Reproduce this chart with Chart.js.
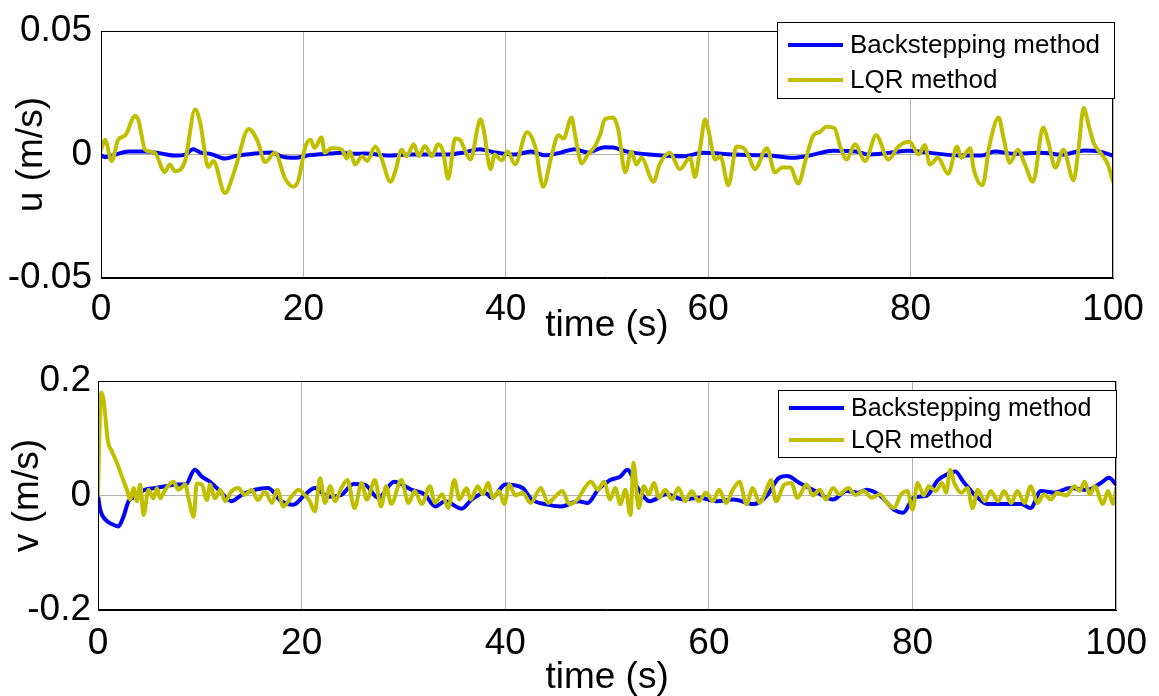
<!DOCTYPE html>
<html>
<head>
<meta charset="utf-8">
<script src="https://cdn.jsdelivr.net/npm/chart.js@4/dist/chart.umd.min.js"></script>
<style>
  html, body { margin: 0; padding: 0; background: #fff; }
  #wrap { position: relative; width: 1159px; height: 696px; }
  canvas { position: absolute; left: 0; }
  #uChart { top: 0; }
  #vChart { top: 348px; }
</style>
</head>
<body>
<div id="wrap">
  <canvas id="uChart" width="1159" height="348"></canvas>
  <canvas id="vChart" width="1159" height="348"></canvas>
</div>
<script>
// tick positions
const timeTicks = [0, 20, 40, 60, 80, 100];
const uTicks = [-0.05, 0, 0.05];
const vTicks = [-0.2, 0, 0.2];

const seriesNames = ["Backstepping method", "LQR method"];

// surge velocity u, backstepping
const uBackTime = [0, 0.4, 1.4, 2.7, 4.3, 6.0, 7.3, 8.3, 9.1, 9.8, 10.9, 12.25, 13.2, 15.2, 16.9, 17.8, 19.2, 20.5,
  22.5, 23.8, 24.9, 26.1, 28.4, 30.7, 34.0, 35.9, 37.4, 38.9, 40.9, 42.5, 43.8, 45.5, 46.8, 48.1, 49.8, 50.6,
  51.9, 54.2, 57.5, 59.5, 62.5, 65.8, 68.4, 70.4, 72.3, 74.6, 75.8, 77.8, 79.7, 82.0, 84.3, 87.0, 88.3, 90.3,
  92.9, 94.9, 97.2, 98.6, 100];
const uBack = [-0.0003, -0.001, 0, 0.0013, 0.0013, 0.0004, -0.0004, 0, 0.0022, 0.0009, 0.0002, -0.0016, -0.0007,
  0.0004, 0.0009, -0.0007, -0.0013, -0.0003, 0.0004, 0.0007, 0.0003, 0.0004, -0.0004, 0, 0, 0.0009, 0.0022,
  0.0009, 0, 0.0013, -0.0003, 0.0009, 0.0022, 0.0009, 0.003, 0.0029, 0.0013, 0, -0.0007, 0.0007, 0, -0.0003,
  -0.0013, 0, 0.0016, 0.0013, 0, 0.0007, 0.0016, 0.0007, -0.0003, -0.0004, 0.0013, 0.0003, 0.0007, 0, 0.0017,
  0.0013, -0.0004];

// surge velocity u, LQR
const uLqrTime = [0, 0.4, 1.05, 1.7, 2.4, 3.36, 3.7, 4.35, 5.3, 6.3, 6.8, 7.3, 8.3, 9.3, 9.8, 10.6, 11.1, 12.25,
  13.2, 14.6, 15.5, 16.2, 17.2, 18.2, 19.0, 19.5, 20.2, 20.7, 21.1, 21.8, 22.1, 22.8, 23.8, 24.3, 24.6, 25.1,
  25.8, 26.3, 27.1, 27.7, 28.6, 29.1, 29.7, 30.2, 30.9, 31.4, 32.0, 32.7, 33.3, 33.8, 34.3, 35.0, 35.5, 35.8,
  36.5, 37.5, 37.8, 38.5, 38.9, 39.6, 40.2, 40.9, 42.1, 42.9, 43.7, 44.5, 45.2, 45.7, 46.5, 46.8, 47.5, 48.1,
  48.8, 49.3, 49.8, 50.6, 51.1, 51.8, 52.4, 52.9, 53.4, 54.6, 55.2, 56.2, 57.2, 58.2, 58.7, 59.2, 59.7, 60.0,
  60.7, 61.2, 62.0, 62.8, 63.5, 64.0, 64.6, 65.8, 66.6, 67.3, 68.1, 68.9, 69.6, 70.4, 71.0, 71.7, 72.5, 73.0,
  73.7, 74.5, 75.5, 76.6, 77.8, 78.8, 79.9, 80.8, 81.4, 81.9, 82.7, 83.7, 84.6, 85.0, 85.9, 86.2, 87.1, 87.8,
  88.7, 89.2, 89.8, 90.6, 91.3, 92.1, 93.1, 93.6, 94.3, 95.1, 96.1, 96.6, 97.1, 97.6, 98.1, 98.9, 99.5, 100];
const uLqr = [0.002, 0.006, -0.0026, 0.006, 0.0078, 0.0156, 0.014, 0.002, 0.0008, -0.007, -0.004, -0.0067, -0.0027,
  0.0183, 0.013, -0.005, -0.0026, -0.0156, -0.0065, 0.0104, 0.0052, -0.003, 0.0007, -0.0098, -0.013, -0.0104,
  0.0033, 0.006, 0.0027, 0.007, 0.0007, 0.0027, 0.002, -0.0016, 0.0013, -0.004, -0.0007, -0.0026, 0.0033,
  -0.0013, -0.011, -0.0065, 0.002, -0.0007, 0.0042, -0.0007, 0.0035, -0.0007, 0.0042, 0.0013, -0.0098, 0.0065,
  0.0059, 0.0033, -0.002, 0.0143, 0.0104, -0.0059, 0, -0.0023, 0.0013, -0.004, 0.0091, 0.0033, -0.013, -0.0007,
  0.0078, 0.0065, 0.015, 0.0091, -0.0036, 0, 0.0033, 0.0078, 0.0143, 0.015, 0.0104, -0.0072, 0.0013, -0.004,
  -0.0013, -0.011, -0.004, 0.0007, -0.0059, -0.0013, -0.0091, 0.0026, 0.0143, 0.0104, -0.002, -0.0007, -0.0124,
  0.0033, 0.0026, -0.0007, -0.0059, 0.0026, -0.0072, -0.0052, -0.0052, -0.0117, -0.0026, 0.0078, 0.0091, 0.0113,
  0.0107, 0.0039, -0.002, 0.0042, -0.0026, 0.0078, -0.002, 0.0033, 0.0052, 0, 0.0039, -0.004, -0.0013, -0.0078,
  0.0033, -0.0013, 0.0026, -0.0052, -0.0124, 0.0039, 0.015, 0.0065, -0.0033, 0.002, -0.004, -0.011, 0.011,
  0.0052, -0.0052, 0.002, -0.0104, 0.0026, 0.0189, 0.0117, 0.0046, 0, -0.004, -0.011];

// sway velocity v, backstepping
const vBackTime = [0, 0.22, 0.72, 1.37, 2.0, 2.5, 3.0, 3.7, 4.6, 5.6, 6.6, 7.6, 8.6, 9.5, 10.2, 11.0, 12.0, 13.1,
  14.1, 15.4, 16.7, 18.0, 19.2, 20.3, 21.3, 22.6, 23.9, 25.1, 26.2, 27.5, 29.1, 30.8, 32.1, 33.1, 34.1, 35.7,
  36.7, 38.0, 38.7, 40.0, 41.7, 42.6, 43.9, 45.5, 47.2, 48.1, 49.1, 50.3, 51.3, 52.0, 52.9, 54.2, 55.8, 57.5,
  59.1, 60.8, 62.4, 64.4, 65.7, 66.9, 67.7, 68.9, 70.2, 72.2, 73.5, 74.6, 75.5, 76.8, 78.2, 79.1, 80.1, 81.4,
  82.5, 83.3, 84.2, 85.0, 86.4, 87.4, 89.0, 90.7, 91.6, 92.6, 93.9, 95.5, 97.2, 98.5, 99.3, 100];
const vBack = [0, -0.025, -0.042, -0.05, -0.054, -0.037, -0.01, -0.002, 0.01, 0.013, 0.016, 0.019, 0.019, 0.045,
  0.033, 0.024, 0.007, -0.01, 0.001, 0.01, 0.013, -0.01, -0.016, 0.001, 0.013, -0.002, 0.001, 0.02, 0.019,
  -0.004, 0.024, 0.01, 0.002, -0.019, -0.01, -0.023, -0.007, 0.005, -0.004, 0.019, 0.013, -0.007, -0.015,
  -0.019, -0.01, -0.013, 0.01, 0.027, 0.033, 0.045, 0.016, -0.01, 0.002, -0.007, -0.004, -0.01, -0.007, -0.015,
  0, 0.031, 0.034, 0.022, 0.01, -0.007, 0.008, 0.005, 0.01, 0, -0.025, -0.03, -0.004, 0, 0.027, 0.036, 0.042,
  0.024, -0.004, -0.015, -0.015, -0.015, -0.022, 0.008, 0.005, 0.013, 0.01, 0.022, 0.031, 0.019];

// sway velocity v, LQR
const vLqrTime = [0, 0.13, 0.32, 0.55, 0.72, 0.98, 1.37, 1.86, 2.35, 2.84, 3.17, 3.5, 3.82, 4.15, 4.47, 4.96, 5.45,
  5.78, 6.1, 6.6, 7.4, 7.9, 8.56, 8.9, 9.4, 9.7, 10.2, 10.7, 11.0, 11.5, 12.0, 12.5, 13.1, 13.8, 14.4, 15.1,
  15.7, 16.4, 17.1, 17.6, 18.2, 19.0, 19.7, 20.3, 20.8, 21.3, 21.8, 22.3, 22.8, 23.3, 23.9, 24.5, 25.2, 25.9,
  26.4, 27.2, 27.8, 28.3, 28.8, 29.8, 30.5, 31.1, 31.8, 32.6, 33.1, 33.8, 34.4, 35.0, 35.5, 36.2, 36.6, 37.3,
  37.8, 38.3, 38.8, 39.4, 39.9, 40.4, 41.0, 41.7, 42.5, 43.5, 44.2, 44.8, 45.6, 46.3, 47.1, 47.8, 48.4, 49.1,
  49.7, 50.3, 50.8, 51.3, 51.8, 52.3, 52.6, 53.1, 53.6, 54.1, 54.6, 55.1, 55.7, 56.4, 57.0, 57.7, 58.3, 59.0,
  59.7, 60.4, 61.0, 61.7, 62.3, 63.0, 63.7, 64.3, 65.0, 65.6, 66.1, 66.6, 67.4, 68.1, 68.7, 69.6, 70.2, 70.9,
  71.5, 72.2, 72.8, 73.7, 74.4, 75.2, 76.0, 76.8, 77.5, 78.2, 78.8, 79.5, 80.0, 80.5, 81.1, 81.6, 82.3, 82.9,
  83.3, 83.7, 84.1, 84.8, 85.4, 85.9, 86.4, 87.1, 87.7, 88.4, 89.0, 89.7, 90.3, 91.0, 91.6, 92.3, 92.9, 93.6,
  94.2, 95.1, 95.9, 96.4, 96.9, 97.4, 97.9, 98.7, 99.2, 99.7, 100];
const vLqr = [0, 0.103, 0.18, 0.167, 0.138, 0.094, 0.077, 0.057, 0.033, 0.01, -0.0075, 0.013, -0.01, 0.019, -0.034,
  0.01, -0.005, 0.013, -0.005, 0.01, 0.024, 0.01, 0.019, -0.005, -0.037, 0.021, 0.019, -0.008, 0.019, -0.005,
  0.01, -0.01, 0.007, 0.013, 0.001, 0.01, -0.008, 0.007, -0.013, 0.01, -0.019, -0.002, 0.01, 0.001, -0.01,
  -0.028, 0.03, -0.013, 0.016, -0.01, 0.013, 0.027, -0.022, 0.022, -0.007, 0.027, -0.019, 0.016, -0.015, 0.027,
  -0.013, 0.008, -0.015, 0.016, -0.013, 0.002, -0.022, 0.027, -0.007, 0.013, -0.007, 0.016, 0.002, 0.022,
  -0.004, 0.008, -0.015, 0.019, 0, 0.005, -0.013, 0.013, -0.013, -0.004, 0.008, -0.015, -0.007, 0.013, 0.024,
  0.01, 0.024, -0.007, 0.013, -0.015, 0.01, -0.034, 0.057, -0.022, 0.016, 0.002, 0.022, -0.004, 0.01, -0.007,
  0.013, -0.01, 0.008, -0.01, 0.005, -0.01, 0.01, -0.013, 0.008, 0.024, -0.015, 0.013, -0.013, 0.008, 0.027,
  -0.01, 0.019, 0.022, -0.004, 0.019, 0, 0.01, -0.007, 0.013, 0.002, 0.013, 0.001, 0.008, -0.004, 0.002,
  -0.013, -0.022, 0, 0.008, -0.025, 0.022, 0, 0.016, 0.008, 0.022, 0.005, 0.045, 0.022, 0.005, 0.013, -0.022,
  0.01, -0.01, 0.008, -0.01, 0.008, -0.013, 0.008, -0.013, 0.016, -0.013, 0.002, -0.007, 0.005, 0, 0.016,
  0.008, 0.024, 0.002, 0.016, -0.015, 0.008, -0.015, 0.013];

const FONT = "'Liberation Sans', Arial, Helvetica, sans-serif";
const BLUE = "#0000ff";
const OLIVE = "#bfbf00";
const AXIS_FONT = 37;

function toPoints(times, values) {
  return times.map((t, i) => ({ x: t, y: values[i] }));
}

function fmt(v) {
  return String(Number(v.toFixed(3)));
}

// axes box on top of the lines, plus the boxed legend in the upper right
const boxAndLegend = {
  id: "boxAndLegend",
  afterDraw(chart, args, opts) {
    const { ctx, chartArea: a } = chart;
    ctx.save();
    ctx.strokeStyle = "#000";
    ctx.lineWidth = 1;
    const l = Math.round(a.left) + 0.5, t = Math.round(a.top) + 0.5;
    const r = Math.round(a.right) - 0.5, b = Math.round(a.bottom) - 0.5;
    ctx.strokeRect(l, t, r - l, b - t);

    const lg = opts.legend;
    if (lg) {
      ctx.fillStyle = "#fff";
      ctx.fillRect(lg.x, lg.y, lg.w, lg.h);
      ctx.strokeRect(lg.x + 0.5, lg.y + 0.5, lg.w, lg.h);
      ctx.font = `${lg.size}px ${FONT}`;
      ctx.textBaseline = "middle";
      ctx.textAlign = "left";
      chart.data.datasets.forEach((ds, i) => {
        const y = lg.rows[i];
        ctx.strokeStyle = ds.borderColor;
        ctx.lineWidth = 4;
        ctx.beginPath();
        ctx.moveTo(lg.lineFrom, y);
        ctx.lineTo(lg.lineTo, y);
        ctx.stroke();
        ctx.fillStyle = "#000";
        ctx.fillText(ds.label, lg.textX, y + 1);
      });
    }
    ctx.restore();
  }
};

function buildChart(id, cfg) {
  const ctx = document.getElementById(id).getContext("2d");
  return new Chart(ctx, {
    type: "line",
    data: {
      datasets: [
        // LQR gets the lower order so it is painted over the backstepping curve
        { label: seriesNames[0], data: toPoints(cfg.backTime, cfg.back), borderColor: BLUE, order: 1 },
        { label: seriesNames[1], data: toPoints(cfg.lqrTime, cfg.lqr), borderColor: OLIVE, order: 0 }
      ]
    },
    options: {
      responsive: false,
      animation: false,
      parsing: false,
      layout: { padding: { top: cfg.padTop, right: cfg.padRight, left: 0, bottom: 0 } },
      elements: {
        point: { radius: 0 },
        line: { borderWidth: 4, cubicInterpolationMode: "monotone", borderJoinStyle: "round", borderCapStyle: "round" }
      },
      scales: {
        x: {
          type: "linear",
          min: 0,
          max: 100,
          afterBuildTicks: s => { s.ticks = timeTicks.map(v => ({ value: v })); },
          afterFit: s => { s.height = cfg.xHeight; },
          ticks: { font: { family: FONT, size: AXIS_FONT }, color: "#000", padding: cfg.xTickPad, maxRotation: 0 },
          grid: { color: "#b0b0b0", drawTicks: false },
          border: { display: true, color: "#000" },
          title: {
            display: true, text: "time (s)", color: "#000",
            font: { family: FONT, size: AXIS_FONT, lineHeight: 1 },
            padding: { top: 0, bottom: cfg.xTitlePad }
          }
        },
        y: {
          type: "linear",
          min: cfg.yTicks[0],
          max: cfg.yTicks[cfg.yTicks.length - 1],
          afterBuildTicks: s => { s.ticks = cfg.yTicks.map(v => ({ value: v })); },
          afterFit: s => { s.width = cfg.yWidth; },
          ticks: { font: { family: FONT, size: AXIS_FONT }, color: "#000", padding: cfg.yTickPad, callback: v => fmt(v) },
          grid: { color: "#b0b0b0", drawTicks: false },
          border: { display: true, color: "#000" },
          title: {
            display: true, text: cfg.yLabel, color: "#000",
            font: { family: FONT, size: AXIS_FONT, lineHeight: 1 },
            padding: { top: cfg.yTitlePad, bottom: 0 }
          }
        }
      },
      plugins: {
        legend: { display: false },
        tooltip: { enabled: false },
        boxAndLegend: { legend: cfg.legend }
      }
    },
    plugins: [boxAndLegend]
  });
}

buildChart("uChart", {
  backTime: uBackTime, back: uBack, lqrTime: uLqrTime, lqr: uLqr,
  yTicks: uTicks, yLabel: "u (m/s)",
  padTop: 22, padRight: 46, yWidth: 101, xHeight: 70,
  xTickPad: 10, yTickPad: 9, xTitlePad: 4, yTitlePad: 13,
  legend: { x: 777, y: 22, w: 337, h: 76, rows: [45, 80], lineFrom: 788, lineTo: 843, textX: 850, size: 26 }
});

buildChart("vChart", {
  backTime: vBackTime, back: vBack, lqrTime: vLqrTime, lqr: vLqr,
  yTicks: vTicks, yLabel: "v (m/s)",
  padTop: 33, padRight: 42, yWidth: 98, xHeight: 86,
  xTickPad: 12, yTickPad: 7, xTitlePad: 0, yTitlePad: 9,
  legend: { x: 778, y: 42, w: 338, h: 67, rows: [60, 92], lineFrom: 789, lineTo: 844, textX: 851, size: 25 }
});
</script>
</body>
</html>
